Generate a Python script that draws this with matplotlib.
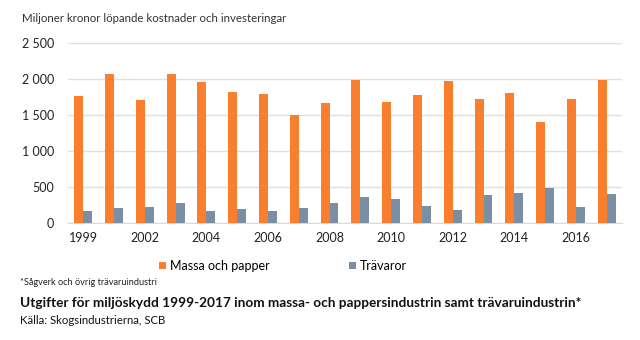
import numpy as np
import matplotlib.pyplot as plt
from matplotlib.ticker import FuncFormatter

plt.rcParams['font.family'] = ['Lato', 'DejaVu Sans']

years = ['1999', '2000', '2002', '2003', '2004', '2005', '2006', '2007', '2008',
         '2009', '2010', '2011', '2012', '2013', '2014', '2015', '2016', '2017']
massa_papper = [1770, 2070, 1705, 2070, 1960, 1820, 1795, 1510, 1665,
                1995, 1690, 1780, 1975, 1725, 1805, 1410, 1725, 1990]
travaror = [170, 210, 225, 280, 170, 200, 170, 210, 285,
            370, 340, 245, 180, 395, 420, 495, 230, 405]

orange = '#F97F2E'
grey = '#7A8FA3'

fig = plt.figure(figsize=(6.4, 3.4), dpi=100)
ax = fig.add_axes([0.106, 0.343, 0.866, 0.53])

x = np.arange(len(years))
w = 0.29
ax.bar(x - w / 2, massa_papper, w, color=orange, label='Massa och papper', zorder=3)
ax.bar(x + w / 2, travaror, w, color=grey, label='Trävaror', zorder=3)

ax.set_xlim(-0.5, len(years) - 0.5)
ax.set_ylim(0, 2500)
ax.set_yticks(range(0, 2501, 500))
ax.yaxis.set_major_formatter(FuncFormatter(lambda v, p: f'{int(v):,}'.replace(',', ' ')))
ax.set_xticks(x[::2])
ax.set_xticklabels(years[::2])
ax.grid(axis='y', color='#E0E0E0', linewidth=1, zorder=0)
for s in ['top', 'right', 'left']:
    ax.spines[s].set_visible(False)
ax.spines['bottom'].set_color('#D9D9D9')
ax.tick_params(length=0, labelsize=9, colors='#222222')
ax.tick_params(axis='y', pad=10)
ax.tick_params(axis='x', pad=6)

fig.text(0.034, 0.945, 'Miljoner kronor löpande kostnader och investeringar',
         fontsize=8.3, color='#333333', va='center')

fig.legend(loc='center', bbox_to_anchor=(0.442, 0.218), ncol=2, frameon=False,
           fontsize=9, handlelength=0.6, handleheight=0.6, handletextpad=0.3,
           columnspacing=6.3)

fig.text(0.031, 0.168, '*Sågverk och övrig trävaruindustri', fontsize=6.6, color='#222222',
         va='center')
fig.text(0.031, 0.11, 'Utgifter för miljöskydd 1999-2017 inom massa- och pappersindustrin samt trävaruindustrin*',
         fontsize=9.8, fontweight='bold', color='#111111', va='center')
fig.text(0.031, 0.058, 'Källa: Skogsindustrierna, SCB', fontsize=8.2, color='#111111', va='center')

fig.savefig('out.png', dpi=100)
